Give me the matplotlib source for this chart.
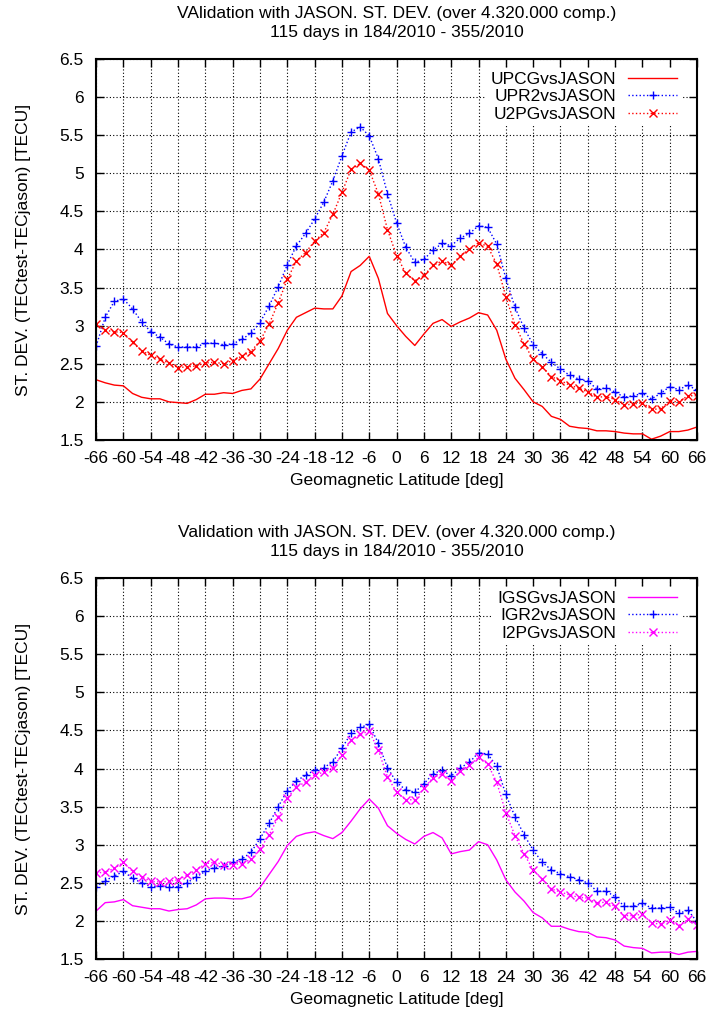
import numpy as np
import matplotlib
matplotlib.use("Agg")
import matplotlib.pyplot as plt

#<----------------------------- Data --------------------------------------->
lat = np.arange(-66, 67, 2)

upcg = [2.29, 2.25, 2.22, 2.21, 2.11, 2.06, 2.04, 2.04, 2.00, 1.99, 1.98, 2.03,
        2.10, 2.10, 2.12, 2.11, 2.15, 2.17, 2.30, 2.50, 2.70, 2.94, 3.11, 3.17,
        3.23, 3.22, 3.22, 3.39, 3.71, 3.79, 3.91, 3.62, 3.16, 3.00, 2.86, 2.74,
        2.89, 3.03, 3.08, 2.99, 3.05, 3.10, 3.17, 3.14, 2.94, 2.56, 2.31, 2.16,
        2.00, 1.94, 1.81, 1.77, 1.68, 1.66, 1.65, 1.62, 1.62, 1.61, 1.59, 1.58,
        1.58, 1.51, 1.55, 1.61, 1.61, 1.63, 1.67]
upr2 = [2.73, 3.11, 3.32, 3.35, 3.22, 3.05, 2.92, 2.85, 2.76, 2.72, 2.72, 2.72,
        2.77, 2.77, 2.75, 2.76, 2.82, 2.90, 3.04, 3.26, 3.51, 3.80, 4.05, 4.21,
        4.40, 4.62, 4.90, 5.23, 5.54, 5.61, 5.49, 5.19, 4.73, 4.35, 4.03, 3.83,
        3.87, 3.99, 4.08, 4.05, 4.15, 4.21, 4.31, 4.29, 4.07, 3.62, 3.24, 2.97,
        2.75, 2.63, 2.52, 2.43, 2.35, 2.30, 2.27, 2.17, 2.18, 2.13, 2.06, 2.08,
        2.11, 2.04, 2.11, 2.20, 2.16, 2.22, 2.15]
u2pg = [3.02, 2.94, 2.92, 2.91, 2.78, 2.67, 2.61, 2.56, 2.51, 2.45, 2.46, 2.47,
        2.51, 2.52, 2.50, 2.54, 2.60, 2.66, 2.80, 3.02, 3.30, 3.61, 3.85, 3.96,
        4.11, 4.22, 4.46, 4.75, 5.05, 5.13, 5.04, 4.73, 4.26, 3.92, 3.69, 3.59,
        3.66, 3.79, 3.85, 3.79, 3.92, 4.00, 4.09, 4.04, 3.81, 3.38, 3.01, 2.76,
        2.56, 2.46, 2.33, 2.28, 2.22, 2.18, 2.13, 2.06, 2.07, 2.03, 1.96, 1.97,
        1.99, 1.90, 1.91, 2.01, 2.00, 2.08, 2.08]

igsg = [2.13, 2.24, 2.25, 2.28, 2.20, 2.18, 2.16, 2.16, 2.13, 2.15, 2.16, 2.21,
        2.29, 2.30, 2.30, 2.29, 2.29, 2.32, 2.44, 2.61, 2.78, 2.99, 3.11, 3.15,
        3.17, 3.12, 3.08, 3.16, 3.31, 3.47, 3.60, 3.48, 3.25, 3.15, 3.07, 3.01,
        3.11, 3.16, 3.09, 2.88, 2.91, 2.93, 3.04, 3.00, 2.80, 2.54, 2.38, 2.26,
        2.11, 2.04, 1.93, 1.93, 1.89, 1.86, 1.85, 1.79, 1.78, 1.75, 1.67, 1.65,
        1.64, 1.58, 1.59, 1.59, 1.56, 1.59, 1.60]
igr2 = [2.45, 2.53, 2.59, 2.65, 2.56, 2.50, 2.45, 2.46, 2.45, 2.45, 2.50, 2.58,
        2.65, 2.70, 2.72, 2.77, 2.81, 2.90, 3.08, 3.28, 3.50, 3.71, 3.84, 3.91,
        3.98, 4.01, 4.09, 4.27, 4.46, 4.54, 4.58, 4.33, 4.01, 3.82, 3.72, 3.69,
        3.80, 3.93, 3.98, 3.90, 4.01, 4.08, 4.21, 4.19, 4.03, 3.66, 3.37, 3.13,
        2.93, 2.77, 2.67, 2.62, 2.58, 2.54, 2.50, 2.39, 2.39, 2.32, 2.19, 2.19,
        2.23, 2.17, 2.17, 2.18, 2.10, 2.14, 1.99]
i2pg = [2.63, 2.64, 2.69, 2.77, 2.65, 2.58, 2.52, 2.51, 2.52, 2.54, 2.60, 2.67,
        2.75, 2.77, 2.74, 2.74, 2.75, 2.81, 2.94, 3.13, 3.36, 3.61, 3.76, 3.82,
        3.92, 3.95, 4.01, 4.18, 4.37, 4.45, 4.49, 4.24, 3.89, 3.69, 3.59, 3.59,
        3.74, 3.88, 3.93, 3.84, 3.97, 4.04, 4.15, 4.06, 3.82, 3.42, 3.12, 2.88,
        2.67, 2.55, 2.42, 2.38, 2.34, 2.31, 2.30, 2.23, 2.25, 2.19, 2.07, 2.07,
        2.09, 1.97, 1.96, 2.01, 1.94, 2.02, 1.95]

title_top = "VAlidation with JASON. ST. DEV. (over 4.320.000 comp.)\n115 days in 184/2010 - 355/2010"
title_bot = "Validation with JASON. ST. DEV. (over 4.320.000 comp.)\n115 days in 184/2010 - 355/2010"
xticks = np.arange(-66, 67, 6)
yticks = np.arange(1.5, 6.51, 0.5)

#<---------------------------- Style --------------------------------------->
plt.rcParams['font.family'] = ['Liberation Sans', 'DejaVu Sans']
plt.rcParams['font.size'] = 12.5
plt.rcParams['axes.unicode_minus'] = False

RED = '#ff0000'
BLUE = '#0000ff'
MAG = '#ff00ff'


def panel(ax, title, series):
    for y, lab, col, mk, ls in series:
        ax.plot(lat, y, color=col, lw=1, ls=ls, marker=mk, ms=6, mew=1,
                label=lab)
    ax.set_xlim(-66, 66)
    ax.set_ylim(1.5, 6.5)
    ax.set_xticks(xticks)
    ax.set_xticklabels([str(v) for v in xticks])
    ax.set_yticks(yticks)
    ax.set_yticklabels(['%g' % v for v in yticks])
    ax.grid(True, color='black', ls=(0, (1, 2)), lw=0.8)
    ax.tick_params(direction='in', length=6, width=1, top=True, right=True)
    ax.tick_params(axis='x', pad=8)
    ax.tick_params(axis='y', pad=9)
    for s in ax.spines.values():
        s.set_linewidth(1.5)
    ax.set_title(title, fontsize=12.5, pad=16, linespacing=1.3)
    ax.set_xlabel('Geomagnetic Latitude [deg]', labelpad=5)
    ax.set_ylabel('ST. DEV. (TECtest-TECjason) [TECU]', labelpad=20)
    leg = ax.legend(loc='upper right', markerfirst=False, handlelength=2.8,
                    frameon=True, fancybox=False, edgecolor='none',
                    facecolor='white', framealpha=1, borderpad=0.25,
                    labelspacing=0.12, handletextpad=0.7,
                    bbox_to_anchor=(0.988, 1.0))
    leg.get_frame().set_linewidth(0)


#<---------------------------- Plot ---------------------------------------->
fig = plt.figure(figsize=(7.12, 10.17), dpi=100)
ax1 = fig.add_axes([0.135, 0.5674, 0.844, 0.3746])
ax2 = fig.add_axes([0.135, 0.057, 0.844, 0.3746])

panel(ax1, title_top, [
    (upcg, 'UPCGvsJASON', RED, None, '-'),
    (upr2, 'UPR2vsJASON', BLUE, '+', ':'),
    (u2pg, 'U2PGvsJASON', RED, 'x', ':'),
])
panel(ax2, title_bot, [
    (igsg, 'IGSGvsJASON', MAG, None, '-'),
    (igr2, 'IGR2vsJASON', BLUE, '+', ':'),
    (i2pg, 'I2PGvsJASON', MAG, 'x', ':'),
])

fig.savefig('out.png', dpi=100)
